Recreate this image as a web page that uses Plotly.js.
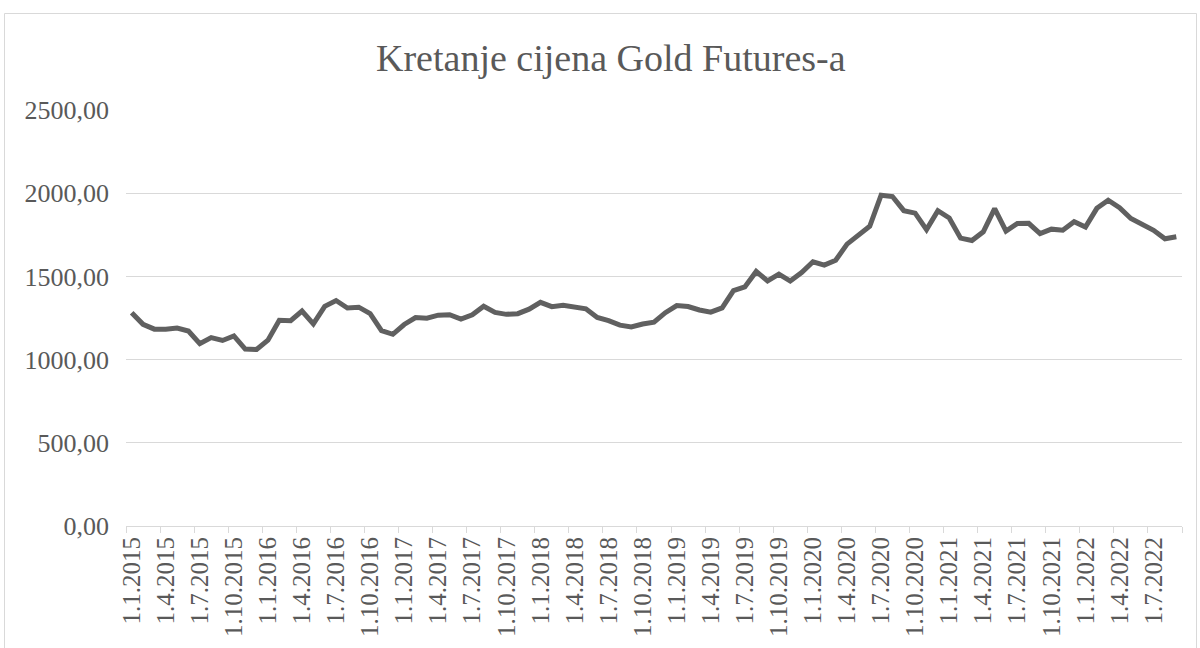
<!DOCTYPE html>
<html>
<head>
<meta charset="utf-8">
<script src="https://cdn.plot.ly/plotly-3.0.1.min.js"></script>
<style>html,body{margin:0;padding:0;background:#fff;}#chart{width:1200px;height:648px;}</style>
</head>
<body>
<div id="chart"></div>
<script>
// Monthly categories (first of month), Jan 2015 – Sep 2022
var months = [
  "1.1.2015","1.2.2015","1.3.2015","1.4.2015","1.5.2015","1.6.2015","1.7.2015","1.8.2015","1.9.2015","1.10.2015","1.11.2015","1.12.2015",
  "1.1.2016","1.2.2016","1.3.2016","1.4.2016","1.5.2016","1.6.2016","1.7.2016","1.8.2016","1.9.2016","1.10.2016","1.11.2016","1.12.2016",
  "1.1.2017","1.2.2017","1.3.2017","1.4.2017","1.5.2017","1.6.2017","1.7.2017","1.8.2017","1.9.2017","1.10.2017","1.11.2017","1.12.2017",
  "1.1.2018","1.2.2018","1.3.2018","1.4.2018","1.5.2018","1.6.2018","1.7.2018","1.8.2018","1.9.2018","1.10.2018","1.11.2018","1.12.2018",
  "1.1.2019","1.2.2019","1.3.2019","1.4.2019","1.5.2019","1.6.2019","1.7.2019","1.8.2019","1.9.2019","1.10.2019","1.11.2019","1.12.2019",
  "1.1.2020","1.2.2020","1.3.2020","1.4.2020","1.5.2020","1.6.2020","1.7.2020","1.8.2020","1.9.2020","1.10.2020","1.11.2020","1.12.2020",
  "1.1.2021","1.2.2021","1.3.2021","1.4.2021","1.5.2021","1.6.2021","1.7.2021","1.8.2021","1.9.2021","1.10.2021","1.11.2021","1.12.2021",
  "1.1.2022","1.2.2022","1.3.2022","1.4.2022","1.5.2022","1.6.2022","1.7.2022","1.8.2022","1.9.2022"
];

// Gold futures price
var prices = [
  1282, 1212, 1183, 1182, 1190, 1172, 1096, 1132, 1115, 1142, 1063, 1061,
  1117, 1236, 1234, 1292, 1215, 1320, 1355, 1310, 1315, 1276, 1174, 1152,
  1211, 1253, 1249, 1267, 1270, 1243, 1269, 1321, 1284, 1272, 1276, 1303,
  1344, 1318, 1327, 1318, 1305, 1253, 1234, 1207, 1196, 1214, 1225, 1282,
  1325, 1319, 1298, 1285, 1311, 1414, 1437, 1530, 1473, 1514, 1472, 1523,
  1588, 1568, 1597, 1694, 1752, 1801, 1988, 1980, 1895, 1880, 1781, 1895,
  1851, 1730, 1716, 1768, 1907, 1772, 1818, 1819, 1757, 1784, 1778, 1829,
  1797, 1909, 1958, 1913, 1848, 1809, 1777, 1726, 1738
];

var yTicks = [0, 500, 1000, 1500, 2000, 2500];

var textColor = "#595959";
var gridColor = "#d9d9d9";
var fontFam = "'Times New Roman', 'Liberation Serif', serif";

var trace = {
  x: months,
  y: prices,
  type: "scatter",
  mode: "lines",
  line: {color: "#606060", width: 5},
  hoverinfo: "skip"
};

var L = 126, R = 1182, T = 110, B = 526;
var pw = R - L, ph = B - T;
function px2x(p){ return (p - L) / pw; }
function px2y(p){ return (B - p) / ph; }

var layout = {
  width: 1200,
  height: 648,
  paper_bgcolor: "#ffffff",
  plot_bgcolor: "#ffffff",
  separators: ",.",
  showlegend: false,
  margin: {l: L, r: 1200 - R, t: T, b: 648 - B, pad: 0},
  font: {family: fontFam, color: textColor},
  title: {
    text: "Kretanje cijena Gold Futures-a",
    font: {family: fontFam, size: 38, color: textColor},
    xref: "container", x: 0.509, xanchor: "center",
    yref: "container", y: 1 - 58 / 648, yanchor: "middle"
  },
  xaxis: {
    type: "category",
    range: [-0.5, months.length - 0.5],
    tickmode: "linear",
    tick0: 0,
    dtick: 3,
    tickson: "boundaries",
    ticks: "outside",
    ticklen: 6,
    tickwidth: 1,
    tickcolor: gridColor,
    tickangle: -90,
    tickfont: {family: fontFam, size: 25, color: textColor},
    showline: true,
    linecolor: gridColor,
    linewidth: 1,
    showgrid: false,
    zeroline: false,
    fixedrange: true
  },
  yaxis: {
    range: [0, 2500],
    tickmode: "array",
    tickvals: yTicks,
    tickformat: ".2f",
    ticks: "",
    ticklabelstandoff: 16,
    tickfont: {family: fontFam, size: 26, color: textColor},
    showgrid: true,
    gridcolor: gridColor,
    gridwidth: 1,
    zeroline: false,
    showline: false,
    fixedrange: true
  },
  shapes: [{
    type: "rect",
    xref: "paper", yref: "paper",
    x0: px2x(4.5), x1: px2x(1196.5),
    y0: px2y(700), y1: px2y(13.5),
    line: {color: gridColor, width: 1},
    fillcolor: "rgba(0,0,0,0)",
    layer: "below"
  }]
};

Plotly.newPlot("chart", [trace], layout, {staticPlot: true, displayModeBar: false});
</script>
</body>
</html>
